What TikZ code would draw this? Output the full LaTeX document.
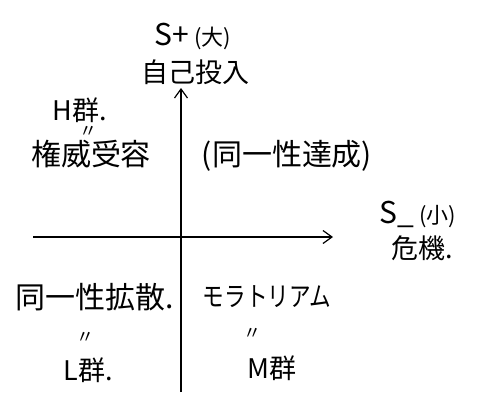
\documentclass[tikz,border=0pt]{standalone}
\usepackage{fontspec}
\setmainfont{Noto Sans CJK JP}
\usetikzlibrary{arrows.meta}
\begin{document}
\begin{tikzpicture}[x=1pt,y=-1pt,
  lbl/.style={inner sep=0pt,font=\fontsize{30}{32}\selectfont},
  mid/.style={inner sep=0pt,font=\fontsize{27}{29}\selectfont},
  sml/.style={inner sep=0pt,font=\fontsize{18}{20}\selectfont},
  axis/.style={line width=1.2pt,-{Straight Barb[length=9pt,width=13pt,line width=1.2pt]}}]
\useasboundingbox (0,0) rectangle (480,392);
\coordinate (vb) at (181,392);
\coordinate (vt) at (181,88);
\coordinate (hl) at (33,237);
\coordinate (hr) at (333,237);
\draw[axis] (vb) -- (vt);
\draw[axis] (hl) -- (hr);
\node[lbl] (splus) at (193,36) {S+\,{\fontsize{22}{24}\selectfont(大)}};
\node[mid] (jiko) at (195,72) {自己投入};
\node[mid] (hgun) at (80,110) {H群.};
\node[sml] (d1) at (88,132) {〃};
\node[lbl] (ken) at (91,154) {権威受容};
\node[lbl] (dou) at (287,156) {(同一性達成)};
\node[lbl] (sminus) at (418,214) {S\_\,{\fontsize{22}{24}\selectfont(小)}};
\node[mid] (kiki) at (422,248) {危機.};
\node[lbl] (kakusan) at (95,297) {同一性拡散.};
\node[sml] (d2) at (85,338) {〃};
\node[mid] (lgun) at (88,370) {L群.};
\node[inner sep=0pt] (mora) at (267,297) {\scalebox{0.8}[1]{\fontsize{27}{29}\selectfont モラトリアム}};
\node[sml] (d3) at (252,334) {〃};
\node[mid] (mgun) at (272,368) {M群};
\end{tikzpicture}
\end{document}
